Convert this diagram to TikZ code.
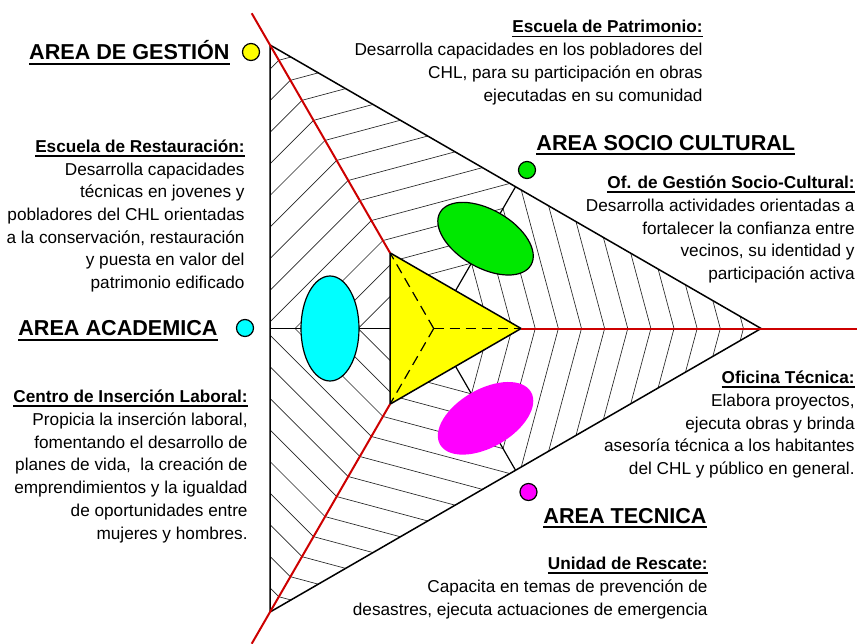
\documentclass[tikz,border=0pt]{standalone}
\usepackage{fontspec}
\setmainfont{Liberation Sans}
\definecolor{axred}{RGB}{205,0,0}
\definecolor{elcyan}{RGB}{0,255,255}
\definecolor{elgreen}{RGB}{0,232,0}
\definecolor{elmag}{RGB}{255,0,255}
\definecolor{elyel}{RGB}{255,255,0}
\newcommand{\myul}[1]{\setbox0\hbox{#1}\rlap{\rule[-2.1pt]{\wd0}{0.8pt}}\box0}
\newcommand{\myulh}[1]{\setbox0\hbox{#1}\rlap{\rule[-2.5pt]{\wd0}{1pt}}\box0}
\tikzset{
  hatch/.style={line width=0.33pt, black!85},
  edgeline/.style={line width=0.75pt, black},
  axisline/.style={line width=0.6pt, black},
  redline/.style={line width=1pt, axred},
  head/.style={font=\fontsize{10.8}{13}\selectfont\bfseries, inner sep=0pt},
  body/.style={font=\fontsize{8.6}{11.35}\selectfont, align=right, inner sep=0pt},
  dot/.style={circle, draw, line width=0.6pt, minimum size=8.5pt, inner sep=0pt},
}
\begin{document}
\begin{tikzpicture}[x=0.5pt,y=-0.5pt]
\useasboundingbox (0,0) rectangle (857,643);
\begin{scope}[shift={(433.7,328.5)}, yscale=-1]
  \def\Rout{327.4}
  \def\Rin{87.4}
  % hatching, built from one sixth by reflections
  \foreach \rot in {0,120,240}{
    \foreach \s in {1,-1}{
      \begin{scope}[rotate=\rot, yscale=\s]
        \clip (120:\Rin) -- (120:\Rout) -- (-163.7,0) -- (-43.7,0) -- cycle;
        \foreach \k in {-10,...,3}{
          \draw[hatch] ({-138.7+31.6*\k},0) -- ++(300,300);
        }
      \end{scope}
    }
  }
  % axes through the ellipses
  \foreach \a in {60,180,300}{
    \draw[axisline] (\a:43.7) -- (\a:163.7);
  }
  % ellipses
  \draw[fill=elcyan, line width=0.6pt] (-103.7,0) ellipse [x radius=29, y radius=52.5];
  \draw[fill=elgreen, line width=0.6pt, rotate=120] (-103.7,0) ellipse [x radius=29, y radius=52.5];
  \fill[elmag, rotate=-120] (-103.7,0) ellipse [x radius=29, y radius=52.5];
  % outer triangle
  \draw[edgeline] (0:\Rout) -- (120:\Rout) -- (240:\Rout) -- cycle;
  % inner triangle
  \draw[edgeline, fill=elyel] (0:\Rin) -- (120:\Rin) -- (240:\Rin) -- cycle;
  \foreach \a in {0,120,240}{
    \draw[line width=0.6pt, dash pattern=on 5pt off 3pt] (0,0) -- (\a:\Rin);
  }
  % red lines
  \draw[redline] (0:\Rin) -- (0:423.3);
  \draw[redline] (120:\Rin) -- (120:364);
  \draw[redline] (240:\Rin) -- (240:364);
\end{scope}

% coloured dots
\node[dot, fill=elyel] (dgest) at (251,52) {};
\node[dot, fill=elcyan] (dacad) at (245,328) {};
\node[dot, fill=elgreen] (dsoc) at (527,170) {};
\node[dot, fill=elmag] (dtec) at (528.5,492) {};

% headings
\node[head, anchor=base east] (hgest) at (230,59.5) {\myulh{AREA DE GESTIÓN}};
\node[head, anchor=base east] (hacad) at (218,335.5) {\myulh{AREA ACADEMICA}};
\node[head, anchor=base west] (hsoc) at (536,150) {\myulh{AREA SOCIO CULTURAL}};
\node[head, anchor=base west] (htec) at (543,523) {\myulh{AREA TECNICA}};

% descriptions (anchor = baseline of the last line)
\node[body, anchor=base east] (tpatr) at (703,101) {\textbf{\myul{Escuela de Patrimonio:}}\\
  Desarrolla capacidades en los pobladores del\\
  CHL, para su participación en obras\\
  ejecutadas en su comunidad};
\node[body, anchor=base east] (trest) at (245,288.5) {\textbf{\myul{Escuela de Restauración:}}\\
  Desarrolla capacidades\\
  técnicas en jovenes y\\
  pobladores del CHL orientadas\\
  a la conservación, restauración\\
  y puesta en valor del\\
  patrimonio edificado};
\node[body, anchor=base east] (tcil) at (248,539) {\textbf{\myul{Centro de Inserción Laboral:}}\\
  Propicia la inserción laboral,\\
  fomentando el desarrollo de\\
  planes de vida,\ \ la creación de\\
  emprendimientos y la igualdad\\
  de oportunidades entre\\
  mujeres y hombres.};
\node[body, anchor=base east] (tsoc) at (855,279.5) {\textbf{\myul{Of. de Gestión Socio-Cultural:}}\\
  Desarrolla actividades orientadas a\\
  fortalecer la confianza entre\\
  vecinos, su identidad y\\
  participación activa};
\node[body, anchor=base east] (tofi) at (855,474.5) {\textbf{\myul{Oficina Técnica:}}\\
  Elabora proyectos,\\
  ejecuta obras y brinda\\
  asesoría técnica a los habitantes\\
  del CHL y público en general.};
\node[body, anchor=base east] (tres) at (708,615) {\textbf{\myul{Unidad de Rescate:}}\\
  Capacita en temas de prevención de\\
  desastres, ejecuta actuaciones de emergencia};
\end{tikzpicture}
\end{document}
